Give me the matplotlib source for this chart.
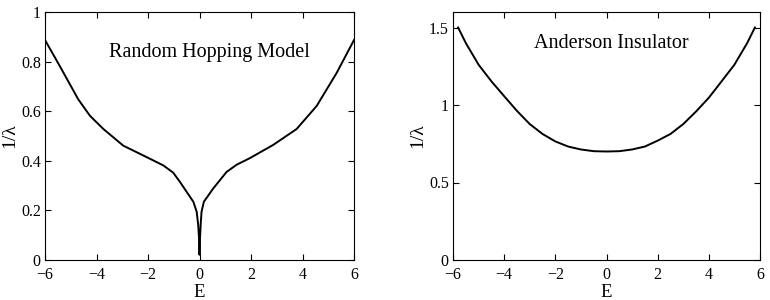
import matplotlib
matplotlib.use('Agg')
import matplotlib.pyplot as plt

# Random hopping model, 1/lambda vs E
e_hop = [-6, -5.42, -4.71, -4.25, -3.73, -2.96, -2.31, -1.92, -1.40, -1.02,
         -0.76, -0.50, -0.24, -0.11, -0.05, -0.02, 0, 0.02, 0.05, 0.08, 0.17,
         0.53, 1.05, 1.44, 1.96, 2.86, 3.77, 4.55, 5.33, 6]
inv_hop = [0.887, 0.781, 0.648, 0.581, 0.528, 0.461, 0.428, 0.408, 0.381, 0.352,
           0.315, 0.275, 0.235, 0.195, 0.141, 0.09, 0.021, 0.09, 0.15, 0.195,
           0.235, 0.288, 0.355, 0.384, 0.411, 0.464, 0.528, 0.621, 0.755, 0.887]

# Anderson insulator, 1/lambda vs E
e_and = [-5.8, -5.5, -5, -4.5, -4, -3.5, -3, -2.5, -2, -1.5, -1, -0.5, 0,
         0.5, 1, 1.5, 2, 2.5, 3, 3.5, 4, 4.5, 5, 5.5, 5.8]
inv_and = [1.5, 1.40, 1.26, 1.153, 1.057, 0.962, 0.877, 0.813, 0.765, 0.732,
           0.713, 0.702, 0.70, 0.702, 0.713, 0.732, 0.77, 0.813, 0.877, 0.958,
           1.047, 1.153, 1.26, 1.40, 1.5]

plt.rcParams['font.family'] = ['Liberation Serif', 'DejaVu Serif']

fig = plt.figure(figsize=(7.7, 3.0), dpi=100)
ax1 = fig.add_axes([45/770, 40/300, 309/770, 248/300])
ax2 = fig.add_axes([453/770, 40/300, 307/770, 248/300])

ax1.plot(e_hop, inv_hop, color='black', lw=1.4)
ax1.set_xlim(-6, 6)
ax1.set_ylim(0, 1)
ax1.set_xticks([-6, -4, -2, 0, 2, 4, 6])
ax1.set_yticks([0, 0.2, 0.4, 0.6, 0.8, 1])
ax1.set_yticklabels(['0', '0.2', '0.4', '0.6', '0.8', '1'])
ax1.text(0.4, 0.836, 'Random Hopping Model', ha='center', va='center', fontsize=14.5)

ax2.plot(e_and, inv_and, color='black', lw=1.4)
ax2.set_xlim(-6, 6)
ax2.set_ylim(0, 1.6)
ax2.set_xticks([-6, -4, -2, 0, 2, 4, 6])
ax2.set_yticks([0, 0.5, 1, 1.5])
ax2.set_yticklabels(['0', '0.5', '1', '1.5'])
ax2.text(0.2, 1.40, 'Anderson Insulator', ha='center', va='center', fontsize=14.5)

for ax in (ax1, ax2):
    ax.set_xticklabels(['\u22126', '\u22124', '\u22122', '0', '2', '4', '6'])
    ax.tick_params(direction='in', top=True, right=True, labelsize=11.5,
                   length=4, width=0.8)
    ax.tick_params(axis='x', pad=5)
    ax.tick_params(axis='y', pad=3)
    ax.set_xlabel('E', fontsize=13.5, labelpad=1)
    ax.set_ylabel('1/\u03bb', fontsize=14, labelpad=2)
    for s in ax.spines.values():
        s.set_linewidth(0.8)

plt.savefig('out.png')
